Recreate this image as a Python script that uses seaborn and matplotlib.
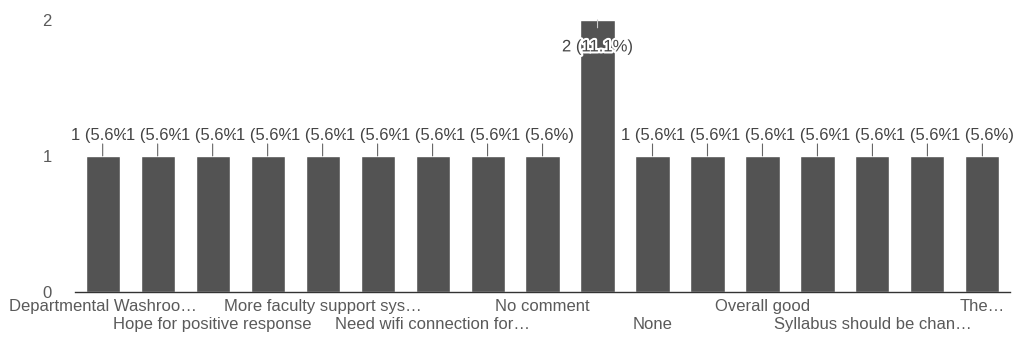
import numpy as np
import pandas as pd
import seaborn as sns
import matplotlib.pyplot as plt
import matplotlib.patheffects as pe

# responses (alphabetical, as the form lists them) and their counts
categories = ['Departmental Washroo…', 'Good', 'Hope for positive response',
              'Improve library facilities', 'More faculty support sys…',
              'Need more practical sessions', 'Need wifi connection for…', 'Nil',
              'No comment', 'No suggestions', 'None', 'Nothing', 'Overall good',
              'Satisfied', 'Syllabus should be chan…', 'Teaching is good', 'The…']
counts = [1, 1, 1, 1, 1, 1, 1, 1, 1, 2, 1, 1, 1, 1, 1, 1, 1]
total = 18

sns.set_style('white')
plt.rcParams['font.family'] = ['Liberation Sans', 'DejaVu Sans']

df = pd.DataFrame({'response': categories, 'count': counts})

fig = plt.figure(figsize=(10.16, 3.48), dpi=100)
ax = fig.add_axes([0.074, 0.161, 0.920, 0.782])

sns.barplot(data=df, x='response', y='count', color='#535353', saturation=1,
            width=0.62, ax=ax)

ax.set_ylim(0, 2)
ax.set_xlim(-0.5, len(categories) - 0.5)
ax.set_yticks([0, 1, 2])
ax.tick_params(axis='y', length=0, pad=17, labelsize=12, labelcolor='#5a5a5a')

# google-forms style: every other label, staggered on two rows
row1 = list(range(0, len(categories), 4))
row2 = list(range(2, len(categories), 4))
ax.set_xticks(row1)
ax.set_xticklabels([categories[i] for i in row1])
ax.set_xticks(row2, minor=True)
ax.set_xticklabels([categories[i] for i in row2], minor=True)
ax.tick_params(axis='x', which='major', length=0, pad=5, labelsize=12, labelcolor='#5a5a5a')
ax.tick_params(axis='x', which='minor', length=0, pad=18, labelsize=12, labelcolor='#5a5a5a')

ax.set_xlabel('')
ax.set_ylabel('')
for s in ['top', 'right', 'left']:
    ax.spines[s].set_visible(False)
ax.spines['bottom'].set_color('#333333')
ax.spines['bottom'].set_linewidth(1)

# value labels with leader lines
for i, v in enumerate(counts):
    txt = f'{v} ({v / total * 100:.1f}%)'
    if v == max(counts):
        ax.annotate(txt, xy=(i, v), xytext=(0, -19.5), textcoords='offset points',
                    ha='center', va='center', fontsize=12, color='#444444',
                    path_effects=[pe.withStroke(linewidth=3, foreground='white')],
                    arrowprops=dict(arrowstyle='-', color='#cccccc', lw=0.8,
                                    shrinkA=6, shrinkB=0))
    else:
        ax.annotate(txt, xy=(i, v), xytext=(0, 15), textcoords='offset points',
                    ha='center', va='center', fontsize=12, color='#444444',
                    bbox=dict(boxstyle='square,pad=0', fc='white', ec='none'),
                    arrowprops=dict(arrowstyle='-', color='#666666', lw=0.8,
                                    shrinkA=1, shrinkB=0))

fig.savefig('out.png', dpi=100, facecolor='white')
